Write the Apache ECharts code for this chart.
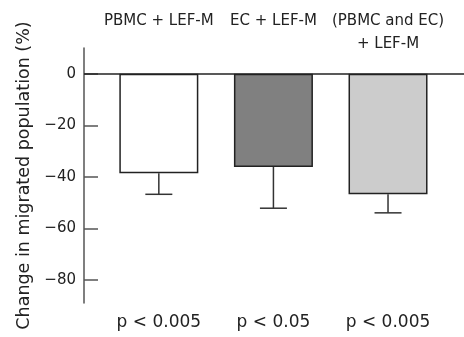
<!DOCTYPE html>
<html>
<head>
<meta charset="utf-8">
<script src="https://cdn.jsdelivr.net/npm/echarts@6/dist/echarts.min.js"></script>
<style>
  html, body { margin: 0; padding: 0; background: #fff; }
  #chart { width: 464px; height: 337px; }
</style>
</head>
<body>
<div id="chart"></div>
<script>
const groups = ['PBMC + LEF-M', 'EC + LEF-M', '(PBMC and EC)\n+ LEF-M']
const pValues = ['p < 0.005', 'p < 0.05', 'p < 0.005']
const positions = [1, 2, 3]
const means = [-38.6, -36.2, -46.8]
const errorEnds = [-46.8, -52.2, -54.0]
const fills = ['#ffffff', '#808080', '#cccccc']
const yTicks = [0, -20, -40, -60, -80]

const font = 'DejaVu Sans'
const textColor = '#222'

const chart = echarts.init(document.getElementById('chart'))

const option = {
  animation: false,
  grid: { left: 84, right: 0, top: 48, bottom: 34 },
  xAxis: [
    {
      type: 'value',
      min: 0.347,
      max: 3.663,
      position: 'bottom',
      axisLine: { show: false },
      axisTick: { show: false },
      splitLine: { show: false },
      axisLabel: {
        customValues: positions,
        formatter: (v) => pValues[positions.indexOf(v)],
        margin: 11,
        fontSize: 17,
        fontFamily: font,
        color: textColor,
      },
    },
    {
      type: 'value',
      min: 0.347,
      max: 3.663,
      position: 'top',
      axisLine: { show: false },
      axisTick: { show: false },
      splitLine: { show: false },
      axisLabel: {
        customValues: positions,
        formatter: (v) => {
          const s = groups[positions.indexOf(v)]
          return s.indexOf('\n') < 0 ? s + '\n ' : s
        },
        margin: -8,
        lineHeight: 23,
        fontSize: 15,
        fontFamily: font,
        color: textColor,
      },
    },
  ],
  yAxis: {
    type: 'value',
    min: -89,
    max: 10,
    name: 'Change in migrated population (%)',
    nameLocation: 'middle',
    nameGap: 51,
    nameTextStyle: { fontSize: 17.5, fontFamily: font, color: textColor },
    axisLine: { show: true, onZero: false, lineStyle: { color: '#555', width: 1.5 } },
    axisTick: {
      show: true,
      inside: true,
      length: 14,
      customValues: yTicks,
      lineStyle: { color: '#555', width: 1.5 },
    },
    axisLabel: {
      customValues: yTicks,
      formatter: (v) => (v < 0 ? '\u2212' + Math.abs(v) : String(v)),
      margin: 8,
      fontSize: 15,
      fontFamily: font,
      color: textColor,
    },
    splitLine: { show: false },
  },
  series: [
    {
      type: 'bar',
      barWidth: 79,
      data: positions.map((x, i) => ({
        value: [x, means[i]],
        itemStyle: { color: fills[i] },
      })),
      itemStyle: { borderColor: '#222', borderWidth: 1.5 },
      markLine: {
        silent: true,
        symbol: 'none',
        label: { show: false },
        lineStyle: { color: '#222', width: 1.5, type: 'solid' },
        data: [{ yAxis: 0 }],
      },
      z: 2,
    },
    {
      type: 'custom',
      data: positions.map((x, i) => [x, means[i], errorEnds[i]]),
      renderItem: (params, api) => {
        const top = api.coord([api.value(0), api.value(1)])
        const bot = api.coord([api.value(0), api.value(2)])
        const half = 13.5
        const style = { stroke: '#333', lineWidth: 1.5 }
        return {
          type: 'group',
          children: [
            { type: 'line', shape: { x1: top[0], y1: top[1], x2: bot[0], y2: bot[1] }, style },
            { type: 'line', shape: { x1: bot[0] - half, y1: bot[1], x2: bot[0] + half, y2: bot[1] }, style },
          ],
        }
      },
      z: 1,
    },
  ],
}

chart.setOption(option)
</script>
</body>
</html>
